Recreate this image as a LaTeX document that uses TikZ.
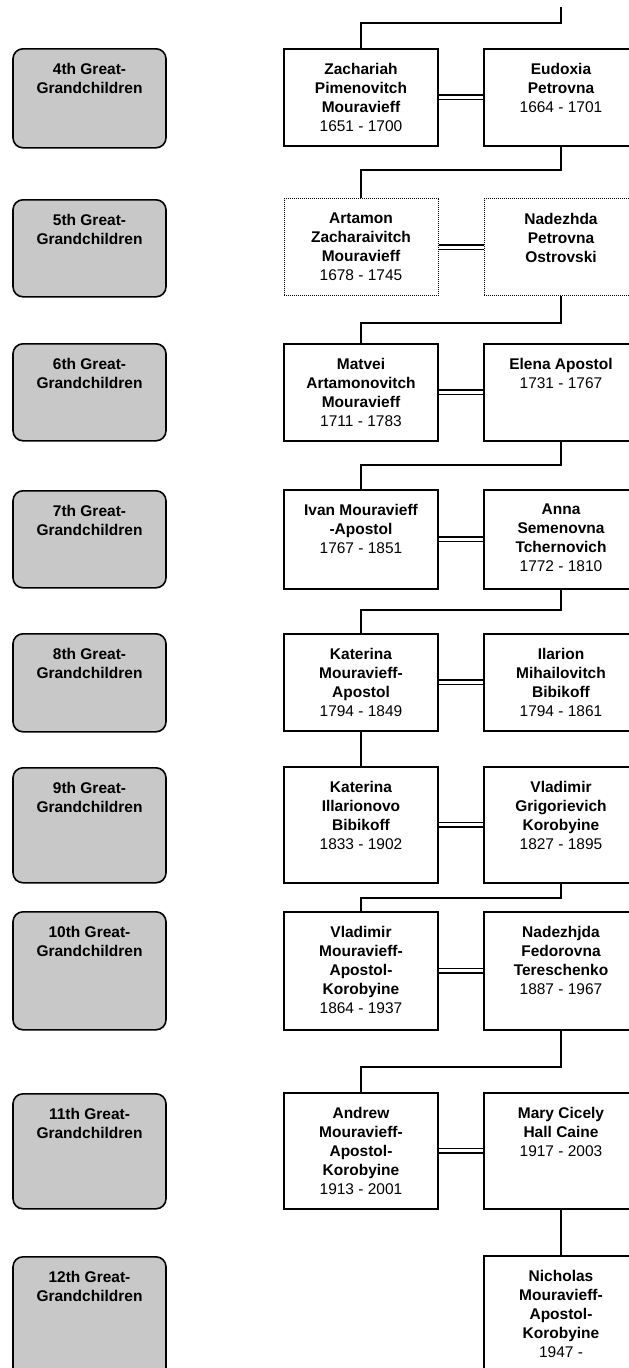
\documentclass[tikz,border=0pt]{standalone}
\usepackage{fontspec}
\setmainfont{Liberation Sans}
\usetikzlibrary{positioning}
\definecolor{gengray}{RGB}{200,200,200}
\newcommand{\boxfont}{\fontsize{15.5}{19}\selectfont\bfseries}
\newcommand{\yrs}[1]{{\mdseries #1}}

\begin{document}
\begin{tikzpicture}[
    x=1pt, y=-1pt,
    gen/.style={draw, line width=1.6pt, rounded corners=10pt, fill=gengray, minimum width=153pt, anchor=north, inner sep=0pt},
    person/.style={draw, line width=1.5pt, fill=white, minimum width=154pt, anchor=north, inner sep=0pt},
    unsure/.style={person, line width=1pt, densely dotted},
    txt/.style={anchor=north, align=center, inner sep=0pt, yshift=-15pt, font=\boxfont},
    link/.style={line width=1.6pt},
    wed/.style={double, double distance=3pt, line width=1.5pt}
]
\useasboundingbox (0,0) rectangle (629,1368);
\clip (0,0) rectangle (629,1368);

% Generation labels
\foreach \n/\y/\h in {4/48/99, 5/199/97, 6/343/97, 7/490/97, 8/633/98, 9/767/115, 10/911/118, 11/1093/115, 12/1256/150}
    \node[gen, minimum height=\h pt, label={[txt]north:{\n th Great-\\Grandchildren}}] (gen\n) at (89.5,\y) {};

% 4th
\node[person, minimum height=97pt, label={[txt]north:{Zachariah\\Pimenovitch\\Mouravieff\\\yrs{1651 - 1700}}}] (zachariah) at (361,48) {};
\node[person, minimum height=97pt, label={[txt]north:{Eudoxia\\Petrovna\\\yrs{1664 - 1701}}}] (eudoxia) at (561,48) {};

% 5th
\node[unsure, minimum height=97pt, label={[txt]north:{Artamon\\Zacharaivitch\\Mouravieff\\\yrs{1678 - 1745}}}] (artamon) at (361,198) {};
\node[unsure, minimum height=97pt, label={[txt]north:{Nadezhda\\Petrovna\\Ostrovski}}] (nadezhda) at (561,198) {};

% 6th
\node[person, minimum height=97pt, label={[txt]north:{Matvei\\Artamonovitch\\Mouravieff\\\yrs{1711 - 1783}}}] (matvei) at (361,343) {};
\node[person, minimum height=97pt, label={[txt]north:{Elena Apostol\\\yrs{1731 - 1767}}}] (elena) at (561,343) {};

% 7th
\node[person, minimum height=99pt, label={[txt]north:{Ivan Mouravieff\\-Apostol\\\yrs{1767 - 1851}}}] (ivan) at (361,489) {};
\node[person, minimum height=99pt, label={[txt]north:{Anna\\Semenovna\\Tchernovich\\\yrs{1772 - 1810}}}] (anna) at (561,489) {};

% 8th
\node[person, minimum height=97pt, label={[txt]north:{Katerina\\Mouravieff-\\Apostol\\\yrs{1794 - 1849}}}] (katerina) at (361,633) {};
\node[person, minimum height=97pt, label={[txt]north:{Ilarion\\Mihailovitch\\Bibikoff\\\yrs{1794 - 1861}}}] (ilarion) at (561,633) {};

% 9th
\node[person, minimum height=116pt, label={[txt]north:{Katerina\\Illarionovo\\Bibikoff\\\yrs{1833 - 1902}}}] (katerinab) at (361,766) {};
\node[person, minimum height=116pt, label={[txt]north:{Vladimir\\Grigorievich\\Korobyine\\\yrs{1827 - 1895}}}] (vladimir) at (561,766) {};

% 10th
\node[person, minimum height=118pt, label={[txt]north:{Vladimir\\Mouravieff-\\Apostol-\\Korobyine\\\yrs{1864 - 1937}}}] (vladimirb) at (361,911) {};
\node[person, minimum height=118pt, label={[txt]north:{Nadezhjda\\Fedorovna\\Tereschenko\\\yrs{1887 - 1967}}}] (nadezhjda) at (561,911) {};

% 11th
\node[person, minimum height=116pt, label={[txt]north:{Andrew\\Mouravieff-\\Apostol-\\Korobyine\\\yrs{1913 - 2001}}}] (andrew) at (361,1092) {};
\node[person, minimum height=116pt, label={[txt]north:{Mary Cicely\\Hall Caine\\\yrs{1917 - 2003}}}] (mary) at (561,1092) {};

% 12th
\node[person, minimum height=150pt, label={[txt]north:{Nicholas\\Mouravieff-\\Apostol-\\Korobyine\\\yrs{1947 -}}}] (nicholas) at (561,1255) {};

% marriages
\draw[wed] (zachariah.east) -- (eudoxia.west);
\draw[wed] (artamon.east) -- (nadezhda.west);
\draw[wed] (matvei.east) -- (elena.west);
\draw[wed] (ivan.east) -- (anna.west);
\draw[wed] (katerina.east) -- (ilarion.west);
\draw[wed] (katerinab.east) -- (vladimir.west);
\draw[wed] (vladimirb.east) -- (nadezhjda.west);
\draw[wed] (andrew.east) -- (mary.west);

% descent
\coordinate (top) at (561,7);
\draw[link] (top) |- ([yshift=25pt]zachariah.north) -- (zachariah.north);
\draw[link] (eudoxia.south) |- ([yshift=28pt]artamon.north) -- (artamon.north);
\draw[link] (nadezhda.south) |- ([yshift=20pt]matvei.north) -- (matvei.north);
\draw[link] (elena.south) |- ([yshift=24pt]ivan.north) -- (ivan.north);
\draw[link] (anna.south) |- ([yshift=23pt]katerina.north) -- (katerina.north);
\draw[link] (katerina.south) -- (katerinab.north);
\draw[link] (vladimir.south) |- ([yshift=13pt]vladimirb.north) -- (vladimirb.north);
\draw[link] (nadezhjda.south) |- ([yshift=25pt]andrew.north) -- (andrew.north);
\draw[link] (mary.south) -- (nicholas.north);

\end{tikzpicture}
\end{document}
